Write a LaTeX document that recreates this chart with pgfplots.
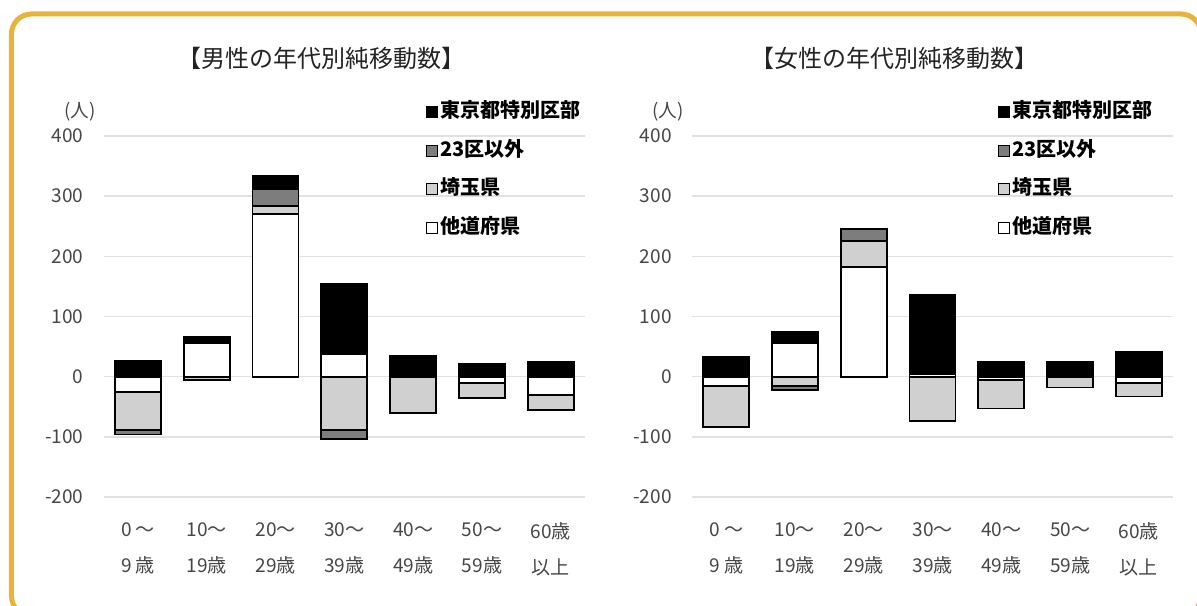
\documentclass[border=0pt]{standalone}
\usepackage{pgfplots}
\pgfplotsset{compat=1.18}
\usepackage{pgfplotstable}
\usepackage{fontspec}
\setmainfont{Noto Sans CJK JP}

\definecolor{framec}{RGB}{233,178,58}
\definecolor{kugray}{RGB}{125,125,125}
\definecolor{saigray}{RGB}{208,208,208}
\definecolor{txt}{RGB}{70,70,70}
\definecolor{titlec}{RGB}{35,35,35}
\definecolor{gridc}{RGB}{225,225,225}

% signed values: tokyo = 東京都特別区部, ku = 23区以外, saitama = 埼玉県, other = 他道府県
\pgfplotstableread{
x tokyo ku saitama other
0 26 -7 -64 -25
1 10 0 -5 56
2 22 27 14 270
3 117 -16 -88 38
4 34 0 -61 0
5 21 0 -26 -10
6 25 0 -26 -30
}\male

\pgfplotstableread{
x tokyo ku saitama other
0 33 0 -69 -15
1 19 -6 -16 55
2 0 20 44 182
3 132 0 -74 4
4 25 0 -48 -5
5 24 0 -18 0
6 41 0 -22 -11
}\female

\pgfplotsset{
  panel/.style={
    scale only axis, width=361.2pt, height=270.75pt,
    anchor=south west,
    xmin=-0.5, xmax=6.5, ymin=-200, ymax=400,
    ybar stacked, bar width=34.5pt,
    every axis plot/.append style={draw=black, line width=1.35pt},
  },
  base/.style={
    axis line style={draw=none}, tick style={draw=none},
    ymajorgrids, grid style={gridc, line width=1.2pt},
    ytick={-200,-100,...,400}, xtick={0,...,6},
    xticklabels={{0 ～\\9 歳},{10～\\19歳},{20～\\29歳},{30～\\39歳},{40～\\49歳},{50～\\59歳},{60歳\\以上}},
    xticklabel style={align=center, font=\fontsize{14.3}{27}\selectfont, text=txt, yshift=-15.5pt},
    yticklabel style={font=\fontsize{14.3}{16}\selectfont, text=txt, xshift=-11.5pt},
    /pgf/number format/assume math mode=true,
    reverse legend, legend cell align=left,
    legend image code/.code={\draw[##1, line width=0.6pt] (0pt,-4pt) rectangle (8pt,4pt);},
    legend style={draw=none, fill=none, anchor=north west,
      font=\fontsize{15}{15}\selectfont\bfseries, row sep=10.9pt, inner sep=0pt,
      nodes={inner sep=2pt, text height=11pt, text depth=3pt}},
  },
}

\begin{document}
\begin{tikzpicture}
\useasboundingbox (0pt,0pt) rectangle (897.75pt,454.5pt);
\clip (0pt,0pt) rectangle (897.75pt,454.5pt);

% ---- male ----
\begin{axis}[panel, base, at={(77.7pt,81.75pt)}, legend style={at={(0.6695,1.1)}}]
  \addplot[fill=white] table[x=x, y expr={max(\thisrow{other},0)}] {\male};
  \addplot[fill=saigray] table[x=x, y expr={max(\thisrow{saitama},0)}] {\male};
  \addplot[fill=kugray] table[x=x, y expr={max(\thisrow{ku},0)}] {\male};
  \addplot[fill=black] table[x=x, y expr={max(\thisrow{tokyo},0)}] {\male};
  \legend{他道府県,埼玉県,23区以外,東京都特別区部}
\end{axis}
\begin{axis}[panel, hide axis, at={(77.7pt,81.75pt)}]
  \addplot[fill=white] table[x=x, y expr={min(\thisrow{other},0)}] {\male};
  \addplot[fill=saigray] table[x=x, y expr={min(\thisrow{saitama},0)}] {\male};
  \addplot[fill=kugray] table[x=x, y expr={min(\thisrow{ku},0)}] {\male};
  \addplot[fill=black] table[x=x, y expr={min(\thisrow{tokyo},0)}] {\male};
\end{axis}

% ---- female ----
\begin{axis}[panel, base, at={(518.8pt,81.75pt)}, legend style={at={(0.636,1.1)}}]
  \addplot[fill=white] table[x=x, y expr={max(\thisrow{other},0)}] {\female};
  \addplot[fill=saigray] table[x=x, y expr={max(\thisrow{saitama},0)}] {\female};
  \addplot[fill=kugray] table[x=x, y expr={max(\thisrow{ku},0)}] {\female};
  \addplot[fill=black] table[x=x, y expr={max(\thisrow{tokyo},0)}] {\female};
  \legend{他道府県,埼玉県,23区以外,東京都特別区部}
\end{axis}
\begin{axis}[panel, hide axis, at={(518.8pt,81.75pt)}]
  \addplot[fill=white] table[x=x, y expr={min(\thisrow{other},0)}] {\female};
  \addplot[fill=saigray] table[x=x, y expr={min(\thisrow{saitama},0)}] {\female};
  \addplot[fill=kugray] table[x=x, y expr={min(\thisrow{ku},0)}] {\female};
  \addplot[fill=black] table[x=x, y expr={min(\thisrow{tokyo},0)}] {\female};
\end{axis}

\node[font=\fontsize{18}{20}\selectfont, text=titlec] at (240.75pt,411pt) {【男性の年代別純移動数】};
\node[font=\fontsize{18}{20}\selectfont, text=titlec] at (670.5pt,411pt) {【女性の年代別純移動数】};
\node[font=\fontsize{14}{16}\selectfont, text=txt] at (60pt,370.5pt) {(人)};
\node[font=\fontsize{14}{16}\selectfont, text=txt] at (501pt,370.5pt) {(人)};

\draw[framec, line width=3.75pt, rounded corners=15pt] (8.6pt,-7.5pt) rectangle (900.75pt,444pt);
\end{tikzpicture}
\end{document}
